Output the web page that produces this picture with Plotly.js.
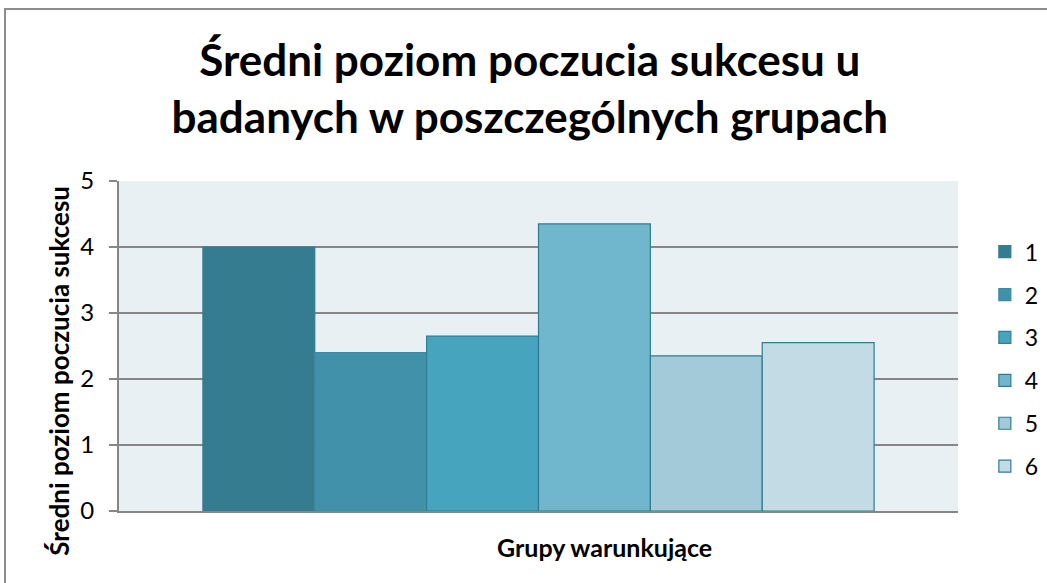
<!DOCTYPE html>
<html>
<head>
<meta charset="utf-8">
<script src="https://cdn.plot.ly/plotly-3.0.1.min.js"></script>
<style>
html,body{margin:0;padding:0;background:#fff;overflow:hidden;}
#frame{position:absolute;left:4px;top:8px;width:1100px;height:700px;border:2px solid #8c8c8c;box-sizing:border-box;}
#chart{position:absolute;left:0;top:0;width:1047px;height:583px;}
</style>
</head>
<body>
<div id="frame"></div>
<div id="chart"></div>
<script>
const seriesNames = ['1', '2', '3', '4', '5', '6'];
const seriesValues = [4.0, 2.4, 2.65, 4.35, 2.35, 2.55];
const category = ['Grupy warunkujące'];
const yTicks = [0, 1, 2, 3, 4, 5];
const titleText = 'Średni poziom poczucia sukcesu u<br>badanych w poszczególnych grupach';
const yTitle = 'Średni poziom poczucia sukcesu';
const xTitle = 'Grupy warunkujące';

const fills = ['#357C91', '#4191AB', '#46A4BE', '#70B6CD', '#A2CAD9', '#C3DBE4'];
const borders = ['#357C91', '#3A8AA2', '#2F7F95', '#2F7C90', '#2F7C90', '#2F7C90'];

const FONT = 'Lato, "Open Sans", sans-serif';

const traces = seriesNames.map((n, i) => ({
  type: 'bar',
  name: n,
  x: category,
  y: [seriesValues[i]],
  marker: {color: fills[i], line: {color: borders[i], width: 1.2}},
  legendgroup: 'g' + i,
  hoverinfo: 'name+y'
}));

const layout = {
  width: 1047, height: 583,
  paper_bgcolor: 'rgba(0,0,0,0)',
  plot_bgcolor: '#E8F0F4',
  margin: {l: 119, r: 89, t: 181, b: 72, autoexpand: false},
  barmode: 'group',
  bargap: 0.2,
  bargroupgap: 0,
  font: {family: FONT, color: '#000'},
  title: {
    text: '<b>' + titleText + '</b>',
    font: {family: FONT, size: 44, color: '#000'},
    x: 0.506, xanchor: 'center', xref: 'container',
    y: 0.87, yanchor: 'middle', yref: 'container'
  },
  xaxis: {
    showticklabels: false, ticks: '',
    showline: true, linecolor: '#868686', linewidth: 2,
    showgrid: false, zeroline: false, fixedrange: true
  },
  yaxis: {
    range: [0, 5], tickvals: yTicks, ticktext: yTicks.map(String),
    ticks: 'outside', ticklen: 8, tickwidth: 2, tickcolor: '#868686',
    ticklabelstandoff: 10,
    showgrid: true, gridcolor: '#868686', gridwidth: 2,
    showline: true, linecolor: '#868686', linewidth: 2,
    zeroline: false,
    tickfont: {family: FONT, size: 24, color: '#000'}
  },
  legend: {
    x: 1.032, xanchor: 'left', y: 0.46, yanchor: 'middle',
    font: {family: FONT, size: 23, color: '#000'},
    traceorder: 'grouped', tracegroupgap: 10,
    bgcolor: 'rgba(0,0,0,0)'
  },
  annotations: [
    {
      text: '<b>' + yTitle + '</b>', textangle: -90,
      xref: 'paper', yref: 'paper', x: -0.072, y: 0.424,
      xanchor: 'center', yanchor: 'middle', showarrow: false,
      font: {family: FONT, size: 26, color: '#000'}
    },
    {
      text: '<b>' + xTitle + '</b>',
      xref: 'paper', yref: 'paper', x: 0.579, y: -0.109,
      xanchor: 'center', yanchor: 'middle', showarrow: false,
      font: {family: FONT, size: 25, color: '#000'}
    }
  ]
};

Plotly.newPlot('chart', traces, layout, {displayModeBar: false, staticPlot: false});
</script>
</body>
</html>
